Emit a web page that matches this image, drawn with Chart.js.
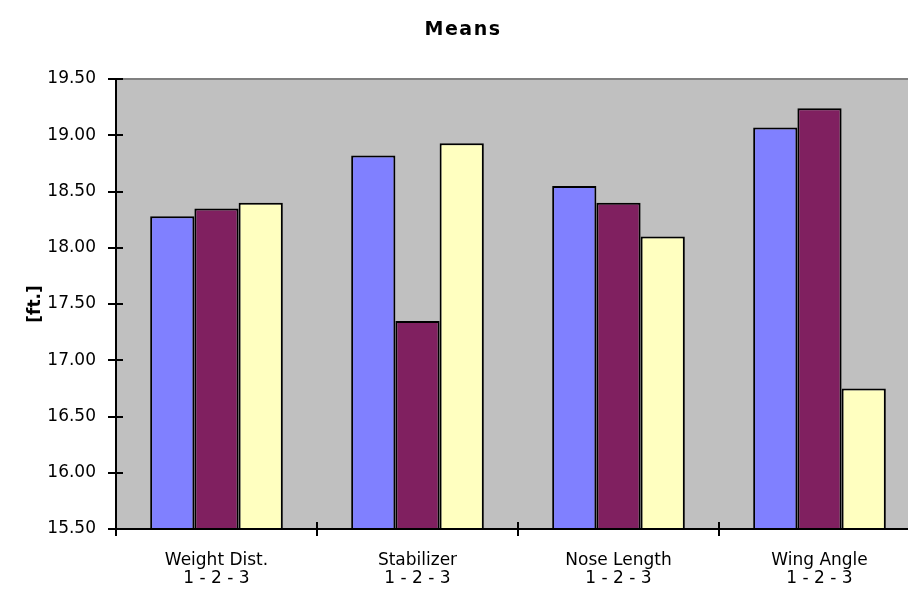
<!DOCTYPE html>
<html>
<head>
<meta charset="utf-8">
<script src="https://cdn.jsdelivr.net/npm/chart.js@4"></script>
<style>
  html, body { margin: 0; padding: 0; background: #ffffff; overflow: hidden; }
  #wrap { width: 920px; height: 591px; }
</style>
</head>
<body>
<div id="wrap"><canvas id="c"></canvas></div>
<script>
// Factor groups, each measured at levels 1, 2 and 3
const categories = [
  ['Weight Dist.', '1 - 2 - 3'],
  ['Stabilizer', '1 - 2 - 3'],
  ['Nose Length', '1 - 2 - 3'],
  ['Wing Angle', '1 - 2 - 3']
];
const level1 = [18.28, 18.82, 18.55, 19.07];
const level2 = [18.35, 17.35, 18.40, 19.24];
const level3 = [18.40, 18.93, 18.10, 16.75];
const yMin = 15.5;
const yMax = 19.5;
const yStep = 0.5;
const chartTitle = 'Means';
const yTitle = '[ft.]';

const FONT = '"DejaVu Sans", Verdana, sans-serif';

// Gray plot background, axis lines and tick marks that cross the axes
const plotFrame = {
  id: 'plotFrame',
  beforeDatasetsDraw(chart) {
    const { ctx, chartArea: a } = chart;
    ctx.save();
    ctx.fillStyle = '#c0c0c0';
    ctx.fillRect(a.left, a.top, a.right - a.left, a.bottom - a.top);
    ctx.restore();
  },
  afterDatasetsDraw(chart) {
    const { ctx, chartArea: a, scales } = chart;
    const x = scales.x, y = scales.y;
    ctx.save();
    // top edge of the plot
    ctx.strokeStyle = '#808080';
    ctx.lineWidth = 2;
    ctx.beginPath();
    ctx.moveTo(a.left, a.top);
    ctx.lineTo(a.right, a.top);
    ctx.stroke();
    ctx.strokeStyle = '#000000';
    ctx.lineWidth = 2;
    ctx.beginPath();
    // value axis
    ctx.moveTo(a.left, a.top);
    ctx.lineTo(a.left, a.bottom);
    // category axis
    ctx.moveTo(a.left, a.bottom);
    ctx.lineTo(a.right, a.bottom);
    // value ticks
    y.ticks.forEach(t => {
      const py = Math.round(y.getPixelForValue(t.value));
      ctx.moveTo(a.left - 8, py);
      ctx.lineTo(a.left + 7, py);
    });
    // category boundary ticks
    for (let i = 0; i <= categories.length; i++) {
      const px = Math.round(x.getPixelForValue(i - 0.5));
      ctx.moveTo(px, a.bottom - 7);
      ctx.lineTo(px, a.bottom + 7);
    }
    ctx.stroke();
    ctx.restore();
  }
};

// Chart heading
const heading = {
  id: 'heading',
  afterDraw(chart) {
    const { ctx } = chart;
    ctx.save();
    ctx.font = 'bold 19px ' + FONT;
    ctx.fillStyle = '#000000';
    ctx.textAlign = 'center';
    ctx.textBaseline = 'middle';
    if ('letterSpacing' in ctx) ctx.letterSpacing = '1.5px';
    ctx.fillText(chartTitle, 463, 30);
    ctx.restore();
  }
};

new Chart(document.getElementById('c'), {
  type: 'bar',
  data: {
    labels: categories,
    datasets: [
      { label: '1', data: level1, backgroundColor: '#8080ff' },
      { label: '2', data: level2, backgroundColor: '#802060' },
      { label: '3', data: level3, backgroundColor: '#ffffc0' }
    ]
  },
  options: {
    responsive: true,
    maintainAspectRatio: false,
    animation: false,
    devicePixelRatio: 1,
    layout: { padding: { top: 79, left: 0, right: 0, bottom: 0 } },
    datasets: {
      bar: {
        categoryPercentage: 0.66,
        barPercentage: 1.0,
        borderColor: '#000000',
        borderWidth: 2
      }
    },
    plugins: {
      legend: { display: false },
      title: { display: false },
      tooltip: { enabled: false }
    },
    scales: {
      x: {
        grid: { display: false },
        border: { display: false },
        ticks: {
          color: '#000000',
          font: { family: FONT, size: 17, lineHeight: 1.05 },
          padding: 15,
          maxRotation: 0,
          autoSkip: false
        },
        afterFit(s) { s.height = 62; }
      },
      y: {
        min: yMin,
        max: yMax,
        grid: { display: false },
        border: { display: false },
        ticks: {
          stepSize: yStep,
          color: '#000000',
          font: { family: FONT, size: 17 },
          padding: 12,
          callback: v => Number(v).toFixed(2)
        },
        title: {
          display: true,
          text: yTitle,
          color: '#000000',
          font: { family: FONT, size: 17, weight: 'bold' },
          padding: { top: 25, bottom: 0 }
        },
        afterFit(s) { s.width = 116; }
      }
    }
  },
  plugins: [plotFrame, heading]
});
</script>
</body>
</html>
